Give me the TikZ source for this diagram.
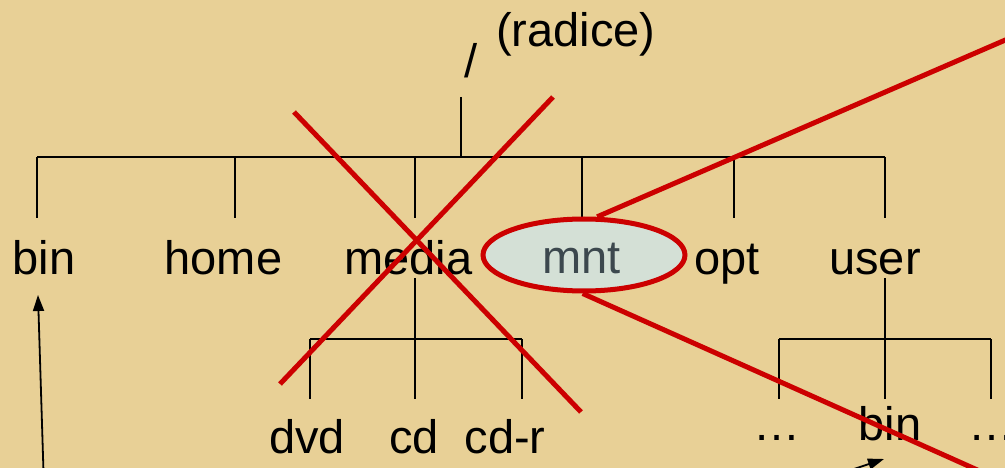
\documentclass[tikz,border=0pt]{standalone}
\usepackage{fontspec}
\setmainfont{Liberation Sans}
\usetikzlibrary{shapes.geometric,arrows.meta}
\definecolor{paper}{RGB}{232,208,150}
\definecolor{xred}{RGB}{204,0,0}
\definecolor{ellfill}{RGB}{212,224,214}
\definecolor{mntcol}{RGB}{60,72,78}
\tikzset{
  tree/.style={line width=1.8pt,black},
  cross/.style={line width=5pt,xred},
  lbl/.style={inner sep=0pt,anchor=base,font=\fontsize{47}{56}\selectfont},
  arr/.style={line width=1.8pt,black,-{Triangle[length=16pt,width=11pt]}}
}
\begin{document}
\begin{tikzpicture}[x=1pt,y=-1pt]
\useasboundingbox (0,0) rectangle (1005,468);
\fill[paper] (0,0) rectangle (1005,468);
\clip (0,0) rectangle (1005,468);

% labels
\node[lbl] (slash) at (471,78) {/};
\node[lbl] (radice) at (576,47) {(radice)};
\node[lbl] (bin) at (44,274) {bin};
\node[lbl] (home) at (223.5,274) {home};
\node[lbl] (media) at (408.5,274) {media};
\node[lbl] (opt) at (727,274) {opt};
\node[lbl] (user) at (875,274) {user};
\node[lbl] (dvd) at (307,453) {dvd};
\node[lbl] (cd) at (414,453) {cd};
\node[lbl] (cdr) at (505,453) {cd-r};
\node[lbl] (dl) at (777,440) {…};
\node[lbl] (ubin) at (890,440) {bin};
\node[lbl] (dr) at (992,440) {…};

% main tree
\coordinate (rtop) at (461,97);
\coordinate (rbar) at (461,157);
\coordinate (barL) at (37,157);
\coordinate (barR) at (885,157);
\draw[tree] (rtop) -- (rbar);
\draw[tree] (barL) -- (barR);
\foreach \i/\x in {1/37,2/235,3/415,4/582,5/734,6/885}{
  \coordinate (t\i) at (\x,157);
  \coordinate (b\i) at (\x,218);
  \draw[tree] (t\i) -- (b\i);
}
% media subtree
\coordinate (mtop) at (415,278);
\coordinate (mbar) at (415,339);
\coordinate (mL) at (310,339);
\coordinate (mR) at (522,339);
\draw[tree] (mtop) -- (mbar);
\draw[tree] (mL) -- (mR);
\foreach \i/\x in {1/310,2/415,3/522}{
  \coordinate (mt\i) at (\x,339);
  \coordinate (mb\i) at (\x,399);
  \draw[tree] (mt\i) -- (mb\i);
}
% user subtree
\coordinate (utop) at (885,278);
\coordinate (ubar) at (885,339);
\coordinate (uL) at (779,339);
\coordinate (uR) at (991,339);
\draw[tree] (utop) -- (ubar);
\draw[tree] (uL) -- (uR);
\foreach \i/\x in {1/779,2/885,3/991}{
  \coordinate (ut\i) at (\x,339);
  \coordinate (ub\i) at (\x,399);
  \draw[tree] (ut\i) -- (ub\i);
}

% red cross over media
\coordinate (xa1) at (294,112);
\coordinate (xb1) at (581,412);
\coordinate (xa2) at (553,97);
\coordinate (xb2) at (280,384);
\draw[cross] (xa1) -- (xb1);
\draw[cross] (xa2) -- (xb2);

% mnt ellipse
\node[ellipse,draw=xred,line width=5pt,fill=ellfill,minimum width=202pt,minimum height=72pt,inner sep=0pt] (mnte) at (584,255) {};
\node[lbl,text=mntcol] (mnt) at (581.5,273) {mnt};

% red lines from the ellipse
\coordinate (up) at (1040,25);
\coordinate (down) at (1040,498);
\draw[cross] (mnte.71) -- (up);
\draw[cross] (mnte.268) -- (down);

% black arrows
\coordinate (a1tail) at (43.5,472);
\coordinate (a1tip) at (38,295);
\draw[arr] (a1tail) -- (a1tip);
\coordinate (a2tail) at (845,472);
\coordinate (a2tip) at (884,459);
\draw[arr] (a2tail) -- (a2tip);
\end{tikzpicture}
\end{document}
